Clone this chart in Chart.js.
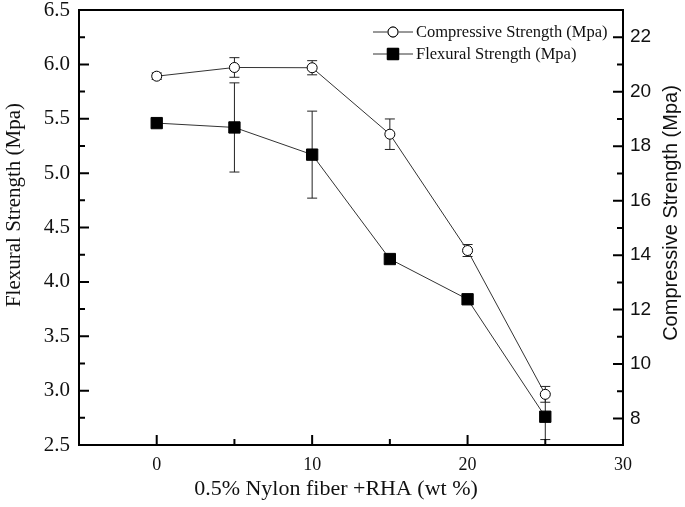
<!DOCTYPE html>
<html>
<head>
<meta charset="utf-8">
<script src="https://cdn.jsdelivr.net/npm/chart.js@4/dist/chart.umd.min.js"></script>
<style>
  html, body { margin: 0; padding: 0; background: #fff; }
  #wrap { width: 685px; height: 507px; }
</style>
</head>
<body>
<div id="wrap"><canvas id="strengthChart" width="685" height="507"></canvas></div>
<script>
// data
const fiberContent = [0, 5, 10, 15, 20, 25];
const compressive = [20.57, 20.89, 20.88, 18.44, 14.17, 8.89];
const compressiveErr = [0.12, 0.36, 0.26, 0.56, 0.22, 0.29];
const flexural = [5.46, 5.42, 5.17, 4.21, 3.84, 2.76];
const flexuralErr = [0.02, 0.41, 0.40, 0.04, 0.04, 0.21];

// axis ticks
const xTicks = [0, 10, 20, 30];
const xMinor = [5, 15, 25];
const flexTicks = [2.5, 3.0, 3.5, 4.0, 4.5, 5.0, 5.5, 6.0, 6.5];
const flexMinor = [2.75, 3.25, 3.75, 4.25, 4.75, 5.25, 5.75, 6.25];
const compTicks = [8, 10, 12, 14, 16, 18, 20, 22];
const compMinor = [9, 11, 13, 15, 17, 19, 21];

const xTitle = '0.5% Nylon fiber +RHA (wt %)';
const flexTitle = 'Flexural Strength (Mpa)';
const compTitle = 'Compressive Strength (Mpa)';

const serif = "'Liberation Serif', 'Times New Roman', serif";
const sans = "'Liberation Sans', Arial, sans-serif";

function toPoints(ys) {
    return fiberContent.map((x, i) => ({ x: x, y: ys[i] }));
}

function setTicks(values) {
    return scale => { scale.ticks = values.map(v => ({ value: v })); };
}

// inward ticks + box frame
const framePlugin = {
    id: 'frame',
    afterDraw(chart) {
        const ctx = chart.ctx;
        const a = chart.chartArea;
        const sx = chart.scales.x, sy = chart.scales.y, sy2 = chart.scales.y2;
        ctx.save();
        ctx.strokeStyle = '#000';
        ctx.lineWidth = 2;
        ctx.strokeRect(a.left, a.top, a.right - a.left, a.bottom - a.top);
        ctx.beginPath();
        xTicks.forEach(v => { const p = sx.getPixelForValue(v); ctx.moveTo(p, a.bottom); ctx.lineTo(p, a.bottom - 10); });
        xMinor.forEach(v => { const p = sx.getPixelForValue(v); ctx.moveTo(p, a.bottom); ctx.lineTo(p, a.bottom - 6); });
        flexTicks.forEach(v => { const p = sy.getPixelForValue(v); ctx.moveTo(a.left, p); ctx.lineTo(a.left + 10, p); });
        flexMinor.forEach(v => { const p = sy.getPixelForValue(v); ctx.moveTo(a.left, p); ctx.lineTo(a.left + 6, p); });
        compTicks.forEach(v => { const p = sy2.getPixelForValue(v); ctx.moveTo(a.right, p); ctx.lineTo(a.right - 10, p); });
        compMinor.forEach(v => { const p = sy2.getPixelForValue(v); ctx.moveTo(a.right, p); ctx.lineTo(a.right - 6, p); });
        ctx.stroke();
        ctx.restore();
    }
};

// axis titles (right one reads bottom-to-top like the left one)
const titlesPlugin = {
    id: 'axisTitles',
    afterDraw(chart) {
        const ctx = chart.ctx;
        ctx.save();
        ctx.fillStyle = '#111';
        ctx.textAlign = 'center';
        ctx.textBaseline = 'middle';

        ctx.font = '22px ' + serif;
        ctx.fillText(xTitle, 336, 489);

        ctx.save();
        ctx.translate(14, 205);
        ctx.rotate(-Math.PI / 2);
        ctx.font = '21px ' + serif;
        ctx.fillText(flexTitle, 0, 0);
        ctx.restore();

        ctx.save();
        ctx.translate(671, 213);
        ctx.rotate(-Math.PI / 2);
        ctx.font = '20px ' + sans;
        ctx.fillText(compTitle, 0, 0);
        ctx.restore();

        ctx.restore();
    }
};

// vertical error bars with caps
const errorBarPlugin = {
    id: 'errorBars',
    beforeDatasetsDraw(chart) {
        const ctx = chart.ctx;
        ctx.save();
        ctx.strokeStyle = '#222';
        ctx.lineWidth = 1;
        chart.data.datasets.forEach(ds => {
            const ys = chart.scales[ds.yAxisID];
            const xs = chart.scales.x;
            ds.data.forEach((pt, i) => {
                const e = ds.errors[i];
                const px = xs.getPixelForValue(pt.x);
                const top = ys.getPixelForValue(pt.y + e);
                const bot = ys.getPixelForValue(pt.y - e);
                ctx.beginPath();
                ctx.moveTo(px, top); ctx.lineTo(px, bot);
                ctx.moveTo(px - 5, top); ctx.lineTo(px + 5, top);
                ctx.moveTo(px - 5, bot); ctx.lineTo(px + 5, bot);
                ctx.stroke();
            });
        });
        ctx.restore();
    }
};

// legend drawn inside the plot, line-marker-line style
const legendPlugin = {
    id: 'insideLegend',
    afterDraw(chart) {
        const ctx = chart.ctx;
        const left = 373, rowY = [32, 54];
        ctx.save();
        chart.data.datasets.forEach((ds, i) => {
            const y = rowY[i];
            ctx.strokeStyle = '#333';
            ctx.lineWidth = 1;
            ctx.beginPath();
            ctx.moveTo(left, y); ctx.lineTo(left + 14, y);
            ctx.moveTo(left + 26, y); ctx.lineTo(left + 40, y);
            ctx.stroke();
            Chart.helpers.drawPoint(ctx, {
                pointStyle: ds.pointStyle,
                radius: ds.pointRadius,
                borderWidth: 1
            }, left + 20, y);
            ctx.fillStyle = ds.pointBackgroundColor;
            ctx.strokeStyle = '#000';
            ctx.fill();
            ctx.stroke();
            ctx.fillStyle = '#111';
            ctx.font = '16.5px ' + serif;
            ctx.textBaseline = 'middle';
            ctx.fillText(ds.label, left + 43, y + 1);
        });
        ctx.restore();
    }
};

function fixWidth(w) {
    return s => { s.width = w; s.paddingTop = 0; s.paddingBottom = 0; };
}

new Chart(document.getElementById('strengthChart').getContext('2d'), {
    type: 'line',
    data: {
        datasets: [{
            label: 'Compressive Strength (Mpa)',
            data: toPoints(compressive),
            errors: compressiveErr,
            yAxisID: 'y2',
            borderColor: '#333',
            borderWidth: 1,
            pointStyle: 'circle',
            pointRadius: 5,
            pointBackgroundColor: '#fff',
            pointBorderColor: '#000',
            pointBorderWidth: 1,
            tension: 0
        }, {
            label: 'Flexural Strength (Mpa)',
            data: toPoints(flexural),
            errors: flexuralErr,
            yAxisID: 'y',
            borderColor: '#333',
            borderWidth: 1,
            pointStyle: 'rect',
            pointRadius: 8,
            pointBackgroundColor: '#000',
            pointBorderColor: '#000',
            pointBorderWidth: 1,
            tension: 0
        }]
    },
    options: {
        responsive: false,
        animation: false,
        layout: { padding: { top: 10, left: 0, right: 0, bottom: 0 } },
        plugins: {
            legend: { display: false },
            tooltip: { enabled: false }
        },
        scales: {
            x: {
                type: 'linear',
                min: -5,
                max: 30,
                afterBuildTicks: setTicks(xTicks),
                afterFit: s => { s.height = 62; s.paddingLeft = 0; s.paddingRight = 0; },
                grid: { display: false, drawTicks: false },
                border: { display: false },
                ticks: { padding: 9, color: '#111', font: { family: serif, size: 18 } },
                title: { display: false }
            },
            y: {
                position: 'left',
                min: 2.5,
                max: 6.5,
                afterBuildTicks: setTicks(flexTicks),
                afterFit: fixWidth(79),
                grid: { display: false, drawTicks: false },
                border: { display: false },
                ticks: { padding: 9, color: '#111', font: { family: serif, size: 21 }, callback: v => v.toFixed(1) },
                title: { display: false }
            },
            y2: {
                position: 'right',
                min: 7.03,
                max: 23,
                afterBuildTicks: setTicks(compTicks),
                afterFit: fixWidth(62),
                grid: { display: false, drawTicks: false },
                border: { display: false },
                ticks: { padding: 7, color: '#111', font: { family: sans, size: 19 } },
                title: { display: false }
            }
        }
    },
    plugins: [framePlugin, errorBarPlugin, legendPlugin, titlesPlugin]
});
</script>
</body>
</html>
